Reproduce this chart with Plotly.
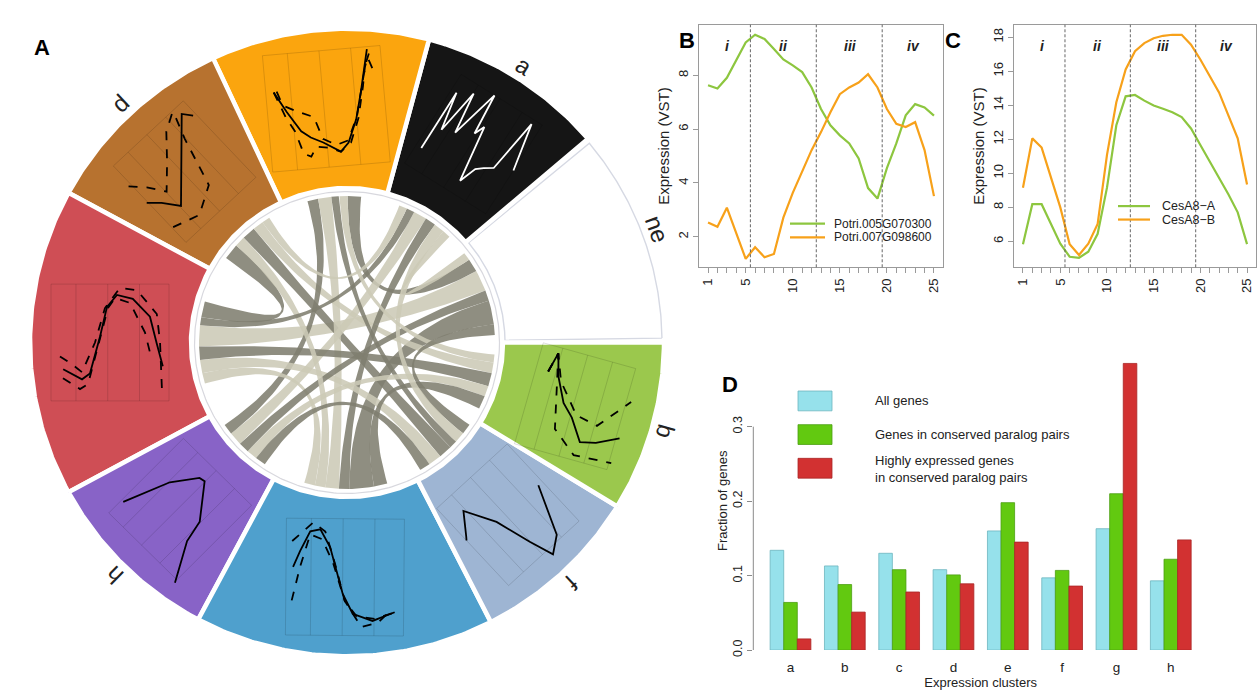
import numpy as np
import plotly.graph_objects as go

FONT = "Liberation Sans, Arial, Helvetica, sans-serif"
FIG_W, FIG_H = 1257, 694

# ---------------- Panel A : ring of expression clusters ----------------
ring_clusters = ["ne", "a", "c", "d", "g", "h", "e", "f", "b"]
ring_start_deg = [0.0, 40.5, 75.0, 115.0, 151.5, 208.5, 242.0, 297.0, 328.5]
ring_end_deg = [40.5, 75.0, 115.0, 151.5, 208.5, 242.0, 297.0, 328.5, 360.0]
ring_colors = ["#FFFFFF", "#151515", "#FBA50E", "#B7722F", "#CF4E55",
               "#8863C7", "#4FA0CD", "#9EB5D3", "#9BC84D"]

# mini expression profiles inside sectors (normalised chart coords 0..1)
a_solid_x = [0.15, 0.15, 0.21, 0.275, 0.32, 0.43, 0.46, 0.5, 0.57, 0.625, 0.68, 0.75, 0.82, 0.9]
a_solid_y = [0.24, 0.79, 0.46, 0.86, 0.5, 0.94, 0.58, 0.67, 0.18, 0.33, 0.375, 0.42, 0.9, 0.49]
c_solid_x = [0.075, 0.17, 0.275, 0.35, 0.45, 0.59, 0.66, 0.74, 0.8, 0.825, 0.88]
c_solid_y = [0.675, 0.5, 0.33, 0.27, 0.22, 0.13, 0.2, 0.39, 0.62, 0.73, 0.97]
c_dash1_x = [0.1, 0.14, 0.25, 0.39, 0.45, 0.56, 0.66, 0.75, 0.82, 0.86, 0.9]
c_dash1_y = [0.68, 0.56, 0.5, 0.44, 0.25, 0.19, 0.22, 0.42, 0.7, 0.85, 0.95]
c_dash2_x = [0.075, 0.16, 0.225, 0.28, 0.34, 0.39, 0.5, 0.59, 0.68, 0.76, 0.82, 0.85, 0.88, 0.92]
c_dash2_y = [0.675, 0.45, 0.33, 0.14, 0.11, 0.19, 0.17, 0.13, 0.2, 0.4, 0.66, 0.82, 0.9, 0.78]
d_solid_x = [0.09, 0.18, 0.28, 0.45, 0.6, 0.71, 0.815, 0.875]
d_solid_y = [0.525, 0.44, 0.31, 0.49, 0.645, 0.76, 0.87, 0.795]
d_dash1_x = [0.075, 0.18, 0.275, 0.45, 0.62, 0.78]
d_dash1_y = [0.73, 0.62, 0.48, 0.66, 0.85, 0.94]
d_dash2_x = [0.11, 0.34, 0.57, 0.69, 0.78]
d_dash2_y = [0.225, 0.15, 0.28, 0.7, 0.94]
g_solid_x = [0.11, 0.267, 0.333, 0.417, 0.475, 0.558, 0.69, 0.833, 0.89, 0.94]
g_solid_y = [0.275, 0.19, 0.24, 0.55, 0.8, 0.9, 0.867, 0.717, 0.49, 0.3]
g_dash1_x = [0.083, 0.183, 0.267, 0.375, 0.458, 0.583, 0.725, 0.89, 0.917, 0.933]
g_dash1_y = [0.383, 0.317, 0.25, 0.5, 0.79, 0.96, 0.94, 0.74, 0.5, 0.1]
g_dash2_x = [0.108, 0.25, 0.317, 0.4, 0.483, 0.542, 0.667, 0.792, 0.833]
g_dash2_y = [0.2, 0.108, 0.15, 0.458, 0.79, 0.875, 0.833, 0.583, 0.417]
h_solid_x = [0.12, 0.28, 0.43, 0.48, 0.69, 0.73, 0.905]
h_solid_y = [0.21, 0.6, 0.8, 0.81, 0.54, 0.35, 0.03]
e_solid_x = [0.067, 0.125, 0.208, 0.292, 0.375, 0.483, 0.567, 0.733, 0.917]
e_solid_y = [0.583, 0.717, 0.883, 0.9, 0.75, 0.358, 0.192, 0.133, 0.208]
e_dash1_x = [0.058, 0.233, 0.333, 0.42, 0.5, 0.6, 0.75, 0.9]
e_dash1_y = [0.8, 0.958, 0.883, 0.6, 0.3, 0.17, 0.15, 0.2]
e_dash2_x = [0.058, 0.125, 0.208, 0.308, 0.4, 0.5, 0.64, 0.78, 0.88]
e_dash2_y = [0.3, 0.583, 0.858, 0.817, 0.62, 0.3, 0.08, 0.12, 0.22]
f_solid_x = [0.1, 0.12, 0.25, 0.39, 0.48, 0.55, 0.685, 0.855]
f_solid_y = [0.575, 0.6, 0.775, 0.52, 0.21, 0.0, 0.1, 0.51]
b_solid_x = [0.205, 0.245, 0.3, 0.4, 0.5, 0.62, 0.75, 0.93]
b_solid_y = [0.72, 0.89, 0.7, 0.5, 0.4, 0.22, 0.25, 0.34]
b_dash1_x = [0.205, 0.245, 0.33, 0.53, 0.72, 0.94]
b_dash1_y = [0.72, 0.89, 0.67, 0.43, 0.39, 0.66]
b_dash2_x = [0.205, 0.245, 0.39, 0.6, 0.92]
b_dash2_y = [0.72, 0.89, 0.27, 0.1, 0.12]
stage_bounds = [5.5, 12.5, 19.5]
n_timepoints = 25

# chord links between clusters (conserved paralog pairs)
link_from = ["g", "ne", "c", "d", "d", "d", "h", "h", "e", "e", "e", "f", "f",
             "b", "b", "a", "h", "b", "e", "g", "c", "h", "d", "ne", "f"]
link_to = ["ne", "e", "ne", "g", "f", "b", "a", "c", "c", "a", "g", "c", "g",
           "g", "h", "ne", "ne", "e", "d", "a", "b", "f", "a", "f", "a"]
link_width = [8, 9, 5, 6, 5, 4, 5, 4, 5, 4, 4, 3, 5, 5, 4, 3, 4, 5, 4, 3, 3, 4, 3, 4, 4]
link_shade = ["light", "dark", "dark", "dark", "dark", "light", "light", "dark", "light",
              "dark", "light", "dark", "light", "dark", "light", "light", "dark", "dark",
              "light", "dark", "light", "dark", "light", "dark", "light"]

# ---------------- Panel B / C ----------------
time_points = list(range(1, 26))
potri005 = [7.63, 7.51, 7.91, 8.59, 9.22, 9.51, 9.35, 8.98, 8.59, 8.37, 8.12, 7.55, 6.75,
            6.14, 5.77, 5.47, 4.91, 3.81, 3.42, 4.55, 5.47, 6.51, 6.93, 6.81, 6.5]
potri007 = [2.53, 2.37, 3.08, 2.1, 1.18, 1.61, 1.24, 1.36, 2.71, 3.63, 4.42, 5.22, 5.89,
            6.63, 7.3, 7.55, 7.73, 8.04, 7.55, 6.75, 6.2, 6.08, 6.26, 5.22, 3.51]
cesa8_a = [5.83, 8.18, 8.18, 7.02, 5.86, 5.09, 5.03, 5.38, 6.44, 9.15, 12.82, 14.52, 14.6,
           14.27, 13.98, 13.79, 13.59, 13.3, 12.63, 11.66, 10.7, 9.73, 8.76, 7.7, 5.83]
cesa8_b = [9.15, 12.05, 11.51, 9.73, 7.99, 5.83, 5.19, 5.86, 7.02, 11.08, 14.17, 16.1, 17.17,
           17.65, 17.94, 18.08, 18.14, 18.14, 17.56, 16.69, 15.72, 14.75, 13.4, 12.05, 9.34]
stage_labels = ["i", "ii", "iii", "iv"]
stage_mid = [3.1, 9.0, 16.1, 22.8]

# ---------------- Panel D ----------------
d_clusters = ["a", "b", "c", "d", "e", "f", "g", "h"]
frac_all = [0.134, 0.113, 0.130, 0.108, 0.160, 0.097, 0.163, 0.093]
frac_conserved = [0.064, 0.088, 0.108, 0.101, 0.198, 0.107, 0.210, 0.122]
frac_high = [0.015, 0.051, 0.078, 0.089, 0.145, 0.086, 0.385, 0.148]
d_series_names = ["All genes", "Genes in conserved paralog pairs",
                  "Highly expressed genes<br>in conserved paralog pairs"]

GREEN_L, ORANGE_L = "#8DC63F", "#F7A11A"
CYAN, GREEN_B, RED_B = "#96E1EB", "#62C910", "#D23131"


def px(x):
    return x / FIG_W


def py(y):
    return 1 - y / FIG_H


fig = go.Figure()
AX = dict(xaxis="x4", yaxis="y4", hoverinfo="skip", showlegend=False)

# ---- sectors
R_OUT, R_IN, R_CH = 317.0, 156.0, 148.0
for cl, a0, a1, col in zip(ring_clusters, ring_start_deg, ring_end_deg, ring_colors):
    if cl == "ne":
        t = np.radians(np.linspace(a0 + 0.8, a1 - 0.8, 90))
        ro, ri = R_OUT - 2, R_IN + 2
        line = dict(color="#D6D9E3", width=1.4)
    else:
        t = np.radians(np.linspace(a0, a1, 90))
        ro, ri = R_OUT, R_IN
        line = dict(color="white", width=4.5)
    xs = np.concatenate([ro * np.cos(t), ri * np.cos(t[::-1])])
    ys = np.concatenate([ro * np.sin(t), ri * np.sin(t[::-1])])
    xs, ys = np.append(xs, xs[0]), np.append(ys, ys[0])
    fig.add_trace(go.Scatter(x=xs, y=ys, mode="lines", fill="toself", fillcolor=col,
                             line=line, **AX))

# ---- mini charts
mini_lines = {
    "a": [("solid", a_solid_x, a_solid_y)],
    "c": [("solid", c_solid_x, c_solid_y), ("dash", c_dash1_x, c_dash1_y), ("dash", c_dash2_x, c_dash2_y)],
    "d": [("solid", d_solid_x, d_solid_y), ("dash", d_dash1_x, d_dash1_y), ("dash", d_dash2_x, d_dash2_y)],
    "g": [("solid", g_solid_x, g_solid_y), ("dash", g_dash1_x, g_dash1_y), ("dash", g_dash2_x, g_dash2_y)],
    "h": [("solid", h_solid_x, h_solid_y)],
    "e": [("solid", e_solid_x, e_solid_y), ("dash", e_dash1_x, e_dash1_y), ("dash", e_dash2_x, e_dash2_y)],
    "f": [("solid", f_solid_x, f_solid_y)],
    "b": [("solid", b_solid_x, b_solid_y), ("dash", b_dash1_x, b_dash1_y), ("dash", b_dash2_x, b_dash2_y)],
}
BOX, R_MID = 120.0, 237.0
for cl, a0, a1 in zip(ring_clusters, ring_start_deg, ring_end_deg):
    if cl not in mini_lines:
        continue
    th = (a0 + a1) / 2
    phi_deg = ((th - 90 + 45) % 90) - 45
    phi = np.radians(phi_deg)
    cx, cy = R_MID * np.cos(np.radians(th)), R_MID * np.sin(np.radians(th))

    def tf(u, v, bw=BOX, bh=BOX):
        lx = (np.asarray(u, float) - 0.5) * bw
        ly = (np.asarray(v, float) - 0.5) * bh
        return cx + lx * np.cos(phi) - ly * np.sin(phi), cy + lx * np.sin(phi) + ly * np.cos(phi)

    gw, gh = (118.0, 118.0) if abs(phi_deg) < 10 else (96.0, 106.0)
    gu, gv = [0, 1, 1, 0, 0, None], [0, 0, 1, 1, 0, None]
    for sb in stage_bounds:
        gu += [sb / (n_timepoints + 1), sb / (n_timepoints + 1), None]
        gv += [0, 1, None]
    gx, gy = [], []
    for u, v in zip(gu, gv):
        if u is None:
            gx.append(None); gy.append(None)
        else:
            X, Y = tf(u, v, gw, gh); gx.append(float(X)); gy.append(float(Y))
    fig.add_trace(go.Scatter(x=gx, y=gy, mode="lines", line=dict(color="rgba(0,0,0,0.13)", width=1), **AX))
    lc = "white" if cl == "a" else "black"
    for style, u, v in mini_lines[cl]:
        X, Y = tf(u, v)
        fig.add_trace(go.Scatter(x=X, y=Y, mode="lines",
                                 line=dict(color=lc, width=1.8, dash=style), **AX))

# ---- chord disk outline
tt = np.radians(np.linspace(0, 360, 361))
fig.add_trace(go.Scatter(x=152.5 * np.cos(tt), y=152.5 * np.sin(tt), mode="lines",
                         line=dict(color="#D8D8DE", width=1.2), **AX))

# ---- chords
centers = {cl: (a0 + a1) / 2 for cl, a0, a1 in zip(ring_clusters, ring_start_deg, ring_end_deg)}
DEG_PER_UNIT = 1.05
ends = {cl: [] for cl in ring_clusters}
for i, (p, q, w) in enumerate(zip(link_from, link_to, link_width)):
    ends[p].append((i, q, w))
    ends[q].append((i, p, w))
slots = {}
for cl, lst in ends.items():
    th = centers[cl]
    lst.sort(key=lambda t: (centers[t[1]] - th) % 360)
    total = sum(w for _, _, w in lst) * DEG_PER_UNIT
    pos = th + total / 2
    for i, q, w in lst:
        slots[(i, cl)] = (pos - w * DEG_PER_UNIT, pos)
        pos -= w * DEG_PER_UNIT


def arc(a, b, n=12):
    t = np.radians(np.linspace(a, b, n))
    return np.column_stack([R_CH * np.cos(t), R_CH * np.sin(t)])


def bez(p0, p2, n=50):
    t = np.linspace(0, 1, n)[:, None]
    return (1 - t) ** 2 * p0 + t ** 2 * p2


shade_col = {"dark": "rgba(128,126,112,0.88)", "light": "rgba(204,201,182,0.88)"}
for i, (p, q, sh) in enumerate(zip(link_from, link_to, link_shade)):
    a1, a2 = slots[(i, p)]
    b1, b2 = slots[(i, q)]
    A = arc(a1, a2)
    B = arc(b1, b2)
    pts = np.vstack([A, bez(A[-1], B[0]), B, bez(B[-1], A[0])])
    fig.add_trace(go.Scatter(x=pts[:, 0], y=pts[:, 1], mode="lines", fill="toself",
                             fillcolor=shade_col[sh], line=dict(width=0, color=shade_col[sh]), **AX))

# ---- ring labels
for cl, a0, a1 in zip(ring_clusters, ring_start_deg, ring_end_deg):
    th = (a0 + a1) / 2
    fig.add_annotation(x=331 * np.cos(np.radians(th)), y=331 * np.sin(np.radians(th)),
                       xref="x4", yref="y4", text=cl, showarrow=False,
                       textangle=90 - th, font=dict(size=24, color="#222", family=FONT))

# ---------------- Panel B ----------------
fig.add_trace(go.Scatter(x=time_points, y=potri005, mode="lines", name="Potri.005G070300",
                         line=dict(color=GREEN_L, width=2.2), xaxis="x", yaxis="y", showlegend=False))
fig.add_trace(go.Scatter(x=time_points, y=potri007, mode="lines", name="Potri.007G098600",
                         line=dict(color=ORANGE_L, width=2.2), xaxis="x", yaxis="y", showlegend=False))
# ---------------- Panel C ----------------
fig.add_trace(go.Scatter(x=time_points, y=cesa8_a, mode="lines", name="CesA8−A",
                         line=dict(color=GREEN_L, width=2.2), xaxis="x2", yaxis="y2", showlegend=False))
fig.add_trace(go.Scatter(x=time_points, y=cesa8_b, mode="lines", name="CesA8−B",
                         line=dict(color=ORANGE_L, width=2.2), xaxis="x2", yaxis="y2", showlegend=False))
# ---------------- Panel D ----------------
for vals, col, edge, nm in zip([frac_all, frac_conserved, frac_high], [CYAN, GREEN_B, RED_B],
                               ["#6DB5BF", "#4B9E12", "#A92626"], d_series_names):
    fig.add_trace(go.Bar(x=d_clusters, y=vals, name=nm.replace("<br>", " "),
                         marker=dict(color=col, line=dict(color=edge, width=0.8)),
                         xaxis="x3", yaxis="y3", showlegend=False))

tickfont = dict(size=13, color="#222", family=FONT)
line_ax = dict(showline=True, linecolor="#9A9A9A", linewidth=1, mirror=True, showgrid=False,
               zeroline=False, ticks="outside", ticklen=5, tickcolor="#9A9A9A", tickangle=-90,
               tickfont=tickfont)

dom_y_bc = [py(270), py(25)]
fig.update_layout(
    width=FIG_W, height=FIG_H, autosize=False, margin=dict(l=0, r=0, t=0, b=0),
    paper_bgcolor="white", plot_bgcolor="white", font=dict(family=FONT, color="#222"),
    barmode="group", bargap=0.25, bargroupgap=0.0,
    xaxis=dict(domain=[px(699), px(943)], range=[0.04, 25.96], tickmode="array",
               tickvals=[1, 5, 10, 15, 20, 25], anchor="y",
               minor=dict(ticks="outside", ticklen=5, tickcolor="#9A9A9A", dtick=1, tick0=1, showgrid=False),
               **line_ax),
    yaxis=dict(domain=dom_y_bc, range=[0.866, 9.88], tickmode="array", tickvals=[2, 4, 6, 8], anchor="x",
               title=dict(text="Expression (VST)", font=dict(size=15, family=FONT, color="#222"), standoff=2),
               **line_ax),
    xaxis2=dict(domain=[px(1014), px(1256)], range=[0.04, 25.96], tickmode="array",
                tickvals=[1, 5, 10, 15, 20, 25], anchor="y2",
                minor=dict(ticks="outside", ticklen=5, tickcolor="#9A9A9A", dtick=1, tick0=1, showgrid=False),
                **line_ax),
    yaxis2=dict(domain=dom_y_bc, range=[4.47, 18.73], tickmode="array", tickvals=[6, 8, 10, 12, 14, 16, 18],
                anchor="x2",
                title=dict(text="Expression (VST)", font=dict(size=15, family=FONT, color="#222"), standoff=2),
                **line_ax),
    xaxis3=dict(domain=[px(753.3), px(1208)], range=[-0.685, 7.685], anchor="y3", showline=False,
                showgrid=False, zeroline=False, ticks="outside", ticklen=5, tickcolor="rgba(0,0,0,0)",
                tickfont=dict(size=13.5, color="#222", family=FONT),
                title=dict(text="Expression clusters", font=dict(size=13, family=FONT, color="#222"), standoff=3)),
    yaxis3=dict(domain=[py(656.7), py(355.1)], range=[0, 0.401], anchor="x3", showline=False,
                showgrid=False, zeroline=False, ticks="outside", ticklen=5, tickcolor="#8A8A8A",
                tickmode="array", tickvals=[0, 0.1, 0.2, 0.3], ticktext=["0.0", "0.1", "0.2", "0.3"],
                tickangle=-90, tickfont=dict(size=12.5, color="#222", family=FONT),
                title=dict(text="Fraction of genes", font=dict(size=13, family=FONT, color="#222"), standoff=0)),
    xaxis4=dict(domain=[px(347 - 320), px(347 + 320)], range=[-320, 320], visible=False, fixedrange=True),
    yaxis4=dict(domain=[py(346 + 320), py(346 - 320)], range=[-320, 320], visible=False, fixedrange=True,
                anchor="x4"),
)

shapes = []
# stage boundaries in B and C
for xa, ya in [("x", "y"), ("x2", "y2")]:
    for sb in stage_bounds:
        shapes.append(dict(type="line", xref=xa, yref=ya + " domain", x0=sb, x1=sb, y0=0, y1=1,
                           line=dict(color="#555", width=0.9, dash="3px,2px")))
    for lab, xm in zip(stage_labels, stage_mid):
        fig.add_annotation(x=xm, y=0.952, xref=xa, yref=ya + " domain", text=f"<b><i>{lab}</i></b>",
                           showarrow=False, font=dict(size=14, color="#222", family=FONT))
# D y-axis line from 0 to 0.3
shapes.append(dict(type="line", xref="x3 domain", yref="y3", x0=0, x1=0, y0=0, y1=0.3,
                   line=dict(color="#8A8A8A", width=1)))

# manual legends (B, C)
for (x0, x1, xt, ys, names, fs) in [
        (790, 825, 833, [226.0, 239.8], ["Potri.005G070300", "Potri.007G098600"], 12),
        (1118, 1150, 1161, [208.2, 221.8], ["CesA8−A", "CesA8−B"], 12.5)]:
    for yy, nm, col in zip(ys, names, [GREEN_L, ORANGE_L]):
        shapes.append(dict(type="line", xref="paper", yref="paper", x0=px(x0), x1=px(x1),
                           y0=py(yy), y1=py(yy), line=dict(color=col, width=2.2)))
        fig.add_annotation(x=px(xt), y=py(yy), xref="paper", yref="paper", text=nm, showarrow=False,
                           xanchor="left", yanchor="middle", borderpad=0,
                           font=dict(size=fs, color="#222", family=FONT))
# legend D
for (y0, y1, ty), col, edge, nm in zip([(395, 415, 405), (429, 449, 439), (463, 483, 474)],
                                       [CYAN, GREEN_B, RED_B], ["#6DB5BF", "#4B9E12", "#A92626"],
                                       d_series_names):
    shapes.append(dict(type="rect", xref="paper", yref="paper", x0=px(798), x1=px(832),
                       y0=py(y1), y1=py(y0), fillcolor=col, line=dict(color=edge, width=0.8)))
    fig.add_annotation(x=px(873), y=py(ty), xref="paper", yref="paper", text=nm, showarrow=False,
                       xanchor="left", yanchor="middle", align="left",
                       font=dict(size=13, color="#222", family=FONT))
fig.update_layout(shapes=shapes)

# panel letters
for lab, (lx, ly) in zip(["A", "B", "C", "D"], [(32, 33), (687, 26), (963, 26), (730, 388)]):
    fig.add_annotation(x=px(lx), y=py(ly), xref="paper", yref="paper", text=f"<b>{lab}</b>",
                       showarrow=False, font=dict(size=22, color="black", family=FONT))

fig.write_html("out.html", config={"displayModeBar": False},
               post_script="document.body.style.margin='0';")
